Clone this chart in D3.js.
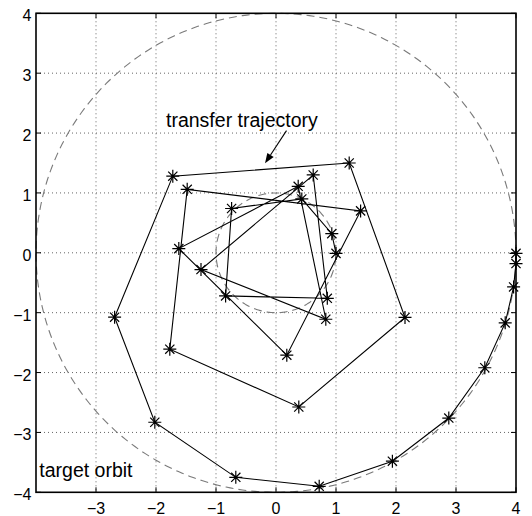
<!DOCTYPE html>
<html><head><meta charset="utf-8">
<script src="https://cdn.jsdelivr.net/npm/d3@7"></script>
<style>body{margin:0;background:#fff}svg{display:block}</style>
</head><body><svg id="c" width="532" height="516"></svg>
<script>
// ---- data ----
const xTicks = [-3, -2, -1, 0, 1, 2, 3, 4];
const yTicks = [-4, -3, -2, -1, 0, 1, 2, 3, 4];
const orbitRadii = [1, 4];
const trajX = [1.00, 0.93, 0.43, -0.74, -0.84, 0.855, 0.62, -1.25, 0.83, 0.37, -1.62, 0.18, 1.41, -1.48, -1.77, 0.38, 2.15, 1.22, -1.72, -2.69, -2.02, -0.67, 0.72, 1.94, 2.88, 3.48, 3.82, 3.96, 4.00, 4.00];
const trajY = [-0.01, 0.32, 0.90, 0.74, -0.72, -0.76, 1.30, -0.28, -1.11, 1.11, 0.07, -1.71, 0.70, 1.06, -1.61, -2.575, -1.08, 1.50, 1.28, -1.075, -2.83, -3.75, -3.90, -3.48, -2.76, -1.92, -1.17, -0.57, -0.18, -0.01];
const labelTransfer = "transfer trajectory";
const labelTarget = "target orbit";

// ---- chart ----
const x = d3.scaleLinear().domain([-4, 4]).range([36, 516]);
const y = d3.scaleLinear().domain([-4, 4]).range([492.3, 13.3]);
const svg = d3.select("#c");
const font = "'Liberation Sans', Arial, Helvetica, sans-serif";

// grid
const g = svg.append("g");
g.selectAll(".gx").data(xTicks.filter(d => d > -4 && d < 4)).join("line")
  .attr("x1", d => x(d)).attr("x2", d => x(d)).attr("y1", y(4)).attr("y2", y(-4))
  .attr("stroke", "#666").attr("stroke-width", 1).attr("stroke-dasharray", "1,3");
g.selectAll(".gy").data(yTicks.filter(d => d > -4 && d < 4)).join("line")
  .attr("y1", d => y(d)).attr("y2", d => y(d)).attr("x1", x(-4)).attr("x2", x(4))
  .attr("stroke", "#666").attr("stroke-width", 1).attr("stroke-dasharray", "1,3");

// orbits
const angles = d3.range(0, 361, 1).map(a => a * Math.PI / 180);
const circLine = d3.line().x(d => x(d[0])).y(d => y(d[1]));
orbitRadii.forEach(r => {
  svg.append("path")
    .attr("d", circLine(angles.map(a => [r * Math.cos(a), r * Math.sin(a)])))
    .attr("fill", "none").attr("stroke", "#7a7a7a").attr("stroke-width", 1.1)
    .attr("stroke-dasharray", "8,5");
});

// trajectory
const pts = trajX.map((v, i) => [v, trajY[i]]);
svg.append("path").attr("d", circLine(pts))
  .attr("fill", "none").attr("stroke", "#000").attr("stroke-width", 1.1);
const s = 6.5, dd = 4.6;
const star = `M${-s},0L${s},0M0,${-s}L0,${s}M${-dd},${-dd}L${dd},${dd}M${-dd},${dd}L${dd},${-dd}`;
svg.selectAll(".st").data(pts).join("path")
  .attr("d", star).attr("transform", d => `translate(${x(d[0])},${y(d[1])})`)
  .attr("fill", "none").attr("stroke", "#000").attr("stroke-width", 1.2);

// axes box
const ax = svg.append("g");
ax.append("rect").attr("x", x(-4)).attr("y", y(4)).attr("width", x(4) - x(-4)).attr("height", y(-4) - y(4))
  .attr("fill", "none").attr("stroke", "#000").attr("stroke-width", 1.6);
const tl = 5;
xTicks.forEach(t => {
  ax.append("line").attr("x1", x(t)).attr("x2", x(t)).attr("y1", y(-4)).attr("y2", y(-4) - tl).attr("stroke", "#000");
  ax.append("line").attr("x1", x(t)).attr("x2", x(t)).attr("y1", y(4)).attr("y2", y(4) + tl).attr("stroke", "#000");
});
yTicks.forEach(t => {
  ax.append("line").attr("y1", y(t)).attr("y2", y(t)).attr("x1", x(-4)).attr("x2", x(-4) + tl).attr("stroke", "#000");
  ax.append("line").attr("y1", y(t)).attr("y2", y(t)).attr("x1", x(4)).attr("x2", x(4) - tl).attr("stroke", "#000");
});
const fmt = d => (d < 0 ? "\u2212" + Math.abs(d) : String(d));
ax.selectAll(".xl").data(xTicks).join("text")
  .attr("x", d => x(d)).attr("y", 514).attr("text-anchor", "middle")
  .attr("font-family", font).attr("font-size", 16).text(fmt);
ax.selectAll(".yl").data(yTicks).join("text")
  .attr("x", 31.5).attr("y", d => y(d) + 8).attr("text-anchor", "end")
  .attr("font-family", font).attr("font-size", 16).text(fmt);

// annotations
svg.append("text").attr("x", x(-1.833)).attr("y", y(2.095))
  .attr("font-family", font).attr("font-size", 19.5).text(labelTransfer);
svg.append("text").attr("x", x(-3.945)).attr("y", y(-3.75))
  .attr("font-family", font).attr("font-size", 19.5).text(labelTarget);
const a0 = [x(0.175), y(2.04)], a1 = [x(-0.183), y(1.494)];
const ang = Math.atan2(a1[1] - a0[1], a1[0] - a0[0]);
const hl = 10, hw = 3.8;
const bx = a1[0] - hl * Math.cos(ang), by = a1[1] - hl * Math.sin(ang);
svg.append("line").attr("x1", a0[0]).attr("y1", a0[1]).attr("x2", bx).attr("y2", by)
  .attr("stroke", "#000").attr("stroke-width", 1.1);
svg.append("path")
  .attr("d", `M${a1[0]},${a1[1]}L${bx + hw * Math.sin(ang)},${by - hw * Math.cos(ang)}L${bx - hw * Math.sin(ang)},${by + hw * Math.cos(ang)}Z`)
  .attr("fill", "#000");
</script></body></html>
